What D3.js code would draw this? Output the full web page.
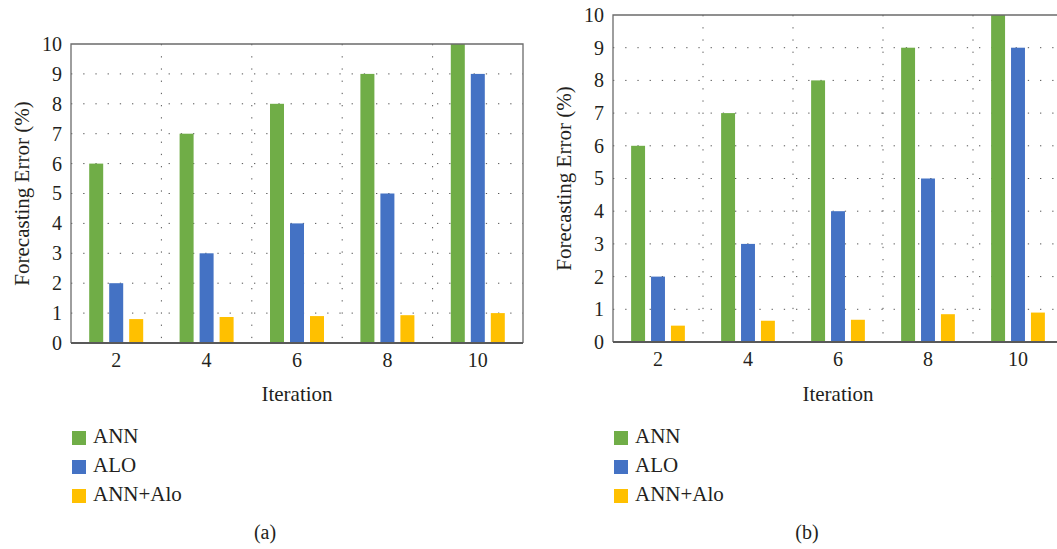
<!DOCTYPE html>
<html>
<head>
<meta charset="utf-8">
<script src="https://cdn.jsdelivr.net/npm/d3@7"></script>
<style>
  body { margin: 0; background: #fff; }
  svg, svg text { font-family: "Liberation Serif", "Times New Roman", serif; fill: #231f20; }
</style>
</head>
<body>
<div id="chart"></div>
<script>
// Chart data
const categories = ['2', '4', '6', '8', '10'];
const seriesNames = ['ANN', 'ALO', 'ANN+Alo'];
const seriesColors = ['#70ad47', '#4472c4', '#ffc000'];
const yTickValues = [0, 1, 2, 3, 4, 5, 6, 7, 8, 9, 10];

// Panel (a)
const annA = [6, 7, 8, 9, 10];
const aloA = [2, 3, 4, 5, 9];
const hybridA = [0.8, 0.87, 0.9, 0.93, 1.0];

// Panel (b)
const annB = [6, 7, 8, 9, 10];
const aloB = [2, 3, 4, 5, 9];
const hybridB = [0.5, 0.65, 0.68, 0.85, 0.9];

const width = 1057;
const height = 549;
const fontFamily = '"Liberation Serif", "Times New Roman", serif';

const svg = d3.select('#chart')
  .append('svg')
    .attr('width', width)
    .attr('height', height)
    .attr('font-family', fontFamily);

function drawPanel(series, box, caption) {
  const g = svg.append('g');

  // Scales
  const x0 = d3.scaleBand()
    .domain(categories)
    .range([box.left, box.right]);
  const x1 = d3.scaleBand()
    .domain(seriesNames)
    .range([0, x0.bandwidth()])
    .paddingInner(0.3)
    .paddingOuter(0.91);
  const y = d3.scaleLinear()
    .domain([0, 10])
    .range([box.bottom, box.top]);

  // Horizontal dotted grid
  g.append('g')
    .selectAll('line')
    .data(yTickValues.slice(1, -1))
    .join('line')
      .attr('x1', box.left)
      .attr('x2', box.right)
      .attr('y1', (d) => y(d))
      .attr('y2', (d) => y(d))
      .attr('stroke', '#555')
      .attr('stroke-width', 1)
      .attr('stroke-dasharray', '1.3,10.9');

  // Vertical dotted grid between categories
  g.append('g')
    .selectAll('line')
    .data(categories.slice(1))
    .join('line')
      .attr('x1', (d) => x0(d))
      .attr('x2', (d) => x0(d))
      .attr('y1', box.top)
      .attr('y2', box.bottom)
      .attr('stroke', '#555')
      .attr('stroke-width', 1)
      .attr('stroke-dasharray', '1.3,10.9');

  // Bars
  const rows = categories.map((c, i) => ({
    cat: c,
    values: seriesNames.map((s, j) => ({ key: s, value: series[j][i], color: seriesColors[j] }))
  }));

  g.append('g')
    .selectAll('g')
    .data(rows)
    .join('g')
      .attr('transform', (d) => 'translate(' + x0(d.cat) + ',0)')
    .selectAll('rect')
    .data((d) => d.values)
    .join('rect')
      .attr('x', (d) => x1(d.key))
      .attr('y', (d) => y(d.value))
      .attr('width', x1.bandwidth())
      .attr('height', (d) => y(0) - y(d.value))
      .attr('fill', (d) => d.color);

  // Frame
  g.append('path')
    .attr('d', 'M' + box.left + ',' + box.bottom + 'V' + box.top + 'H' + box.right + 'V' + box.bottom)
    .attr('fill', 'none')
    .attr('stroke', '#6b6b6b')
    .attr('stroke-width', 1.3);
  g.append('line')
    .attr('x1', box.left)
    .attr('x2', box.right)
    .attr('y1', box.bottom)
    .attr('y2', box.bottom)
    .attr('stroke', '#595959')
    .attr('stroke-width', 2);

  // Y axis labels
  const yAxis = g.append('g')
    .attr('transform', 'translate(' + box.left + ',0)')
    .call(d3.axisLeft(y).tickValues(yTickValues).tickSize(0).tickPadding(9))
    .attr('font-family', fontFamily)
    .attr('font-size', 20);
  yAxis.select('.domain').remove();

  // X axis labels
  const xAxis = g.append('g')
    .attr('transform', 'translate(0,' + box.bottom + ')')
    .call(d3.axisBottom(x0).tickSize(0).tickPadding(10))
    .attr('font-family', fontFamily)
    .attr('font-size', 20);
  xAxis.select('.domain').remove();

  const midX = (box.left + box.right) / 2;

  // Axis titles
  g.append('text')
    .attr('x', midX)
    .attr('y', 401)
    .attr('text-anchor', 'middle')
    .attr('font-size', 21)
    .text('Iteration');

  g.append('text')
    .attr('transform', 'translate(' + (box.left - 49) + ',' + ((box.top + box.bottom) / 2) + ') rotate(-90)')
    .attr('text-anchor', 'middle')
    .attr('dy', '0.35em')
    .attr('font-size', 21)
    .text('Forecasting Error (%)');

  // Legend
  const legend = g.append('g')
    .selectAll('g')
    .data(seriesNames)
    .join('g')
      .attr('transform', (d, i) => 'translate(' + (box.left + 1) + ',' + (431 + i * 29) + ')');
  legend.append('rect')
    .attr('width', 14)
    .attr('height', 14)
    .attr('fill', (d, i) => seriesColors[i]);
  legend.append('text')
    .attr('x', 21)
    .attr('y', 12)
    .attr('font-size', 21)
    .text((d) => d);

  // Caption
  g.append('text')
    .attr('x', box.captionX)
    .attr('y', 539)
    .attr('text-anchor', 'middle')
    .attr('font-size', 20)
    .text(caption);
}

drawPanel([annA, aloA, hybridA], { left: 71, right: 523, top: 44, bottom: 343, captionX: 265 }, '(a)');
drawPanel([annB, aloB, hybridB], { left: 613, right: 1063, top: 15, bottom: 342, captionX: 807 }, '(b)');
</script>
</body>
</html>
